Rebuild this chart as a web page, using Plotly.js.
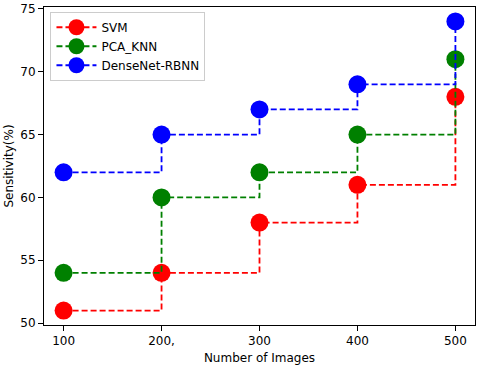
<!DOCTYPE html>
<html>
<head>
<meta charset="utf-8">
<script src="https://cdn.plot.ly/plotly-3.0.1.min.js"></script>
<style>html,body{margin:0;padding:0;background:#fff;}#chart{width:480px;height:365px;}</style>
</head>
<body>
<div id="chart"></div>
<script>
const numImages = [100, 200, 300, 400, 500];
const xTickText = ['100', '200,', '300', '400', '500'];
const svm = [51, 54, 58, 61, 68];
const pcaKnn = [54, 60, 62, 65, 71];
const denseNet = [62, 65, 67, 69, 74];
const seriesNames = ['SVM', 'PCA_KNN', 'DenseNet-RBNN'];
const seriesColors = ['#ff0000', '#008000', '#0000ff'];
const seriesValues = [svm, pcaKnn, denseNet];

const traces = seriesValues.map((vals, i) => ({
  x: numImages,
  y: vals,
  name: seriesNames[i],
  type: 'scatter',
  mode: 'lines+markers',
  line: {shape: 'hv', dash: '6px,3px', width: 1.8, color: seriesColors[i]},
  marker: {size: 18, color: seriesColors[i]},
  cliponaxis: false
}));

const font = {family: 'DejaVu Sans, sans-serif', size: 12, color: '#000'};
const layout = {
  width: 480, height: 365,
  margin: {l: 44, r: 5, t: 7, b: 40},
  paper_bgcolor: '#fff', plot_bgcolor: '#fff',
  font: font,
  showlegend: true,
  legend: {
    x: 0.015, y: 0.985, xanchor: 'left', yanchor: 'top',
    bgcolor: 'rgba(255,255,255,0.8)', bordercolor: '#cccccc', borderwidth: 1,
    font: {family: 'DejaVu Sans, sans-serif', size: 12, color: '#000'},
    itemwidth: 40, tracegroupgap: 0
  },
  xaxis: {
    range: [80, 520],
    tickvals: numImages, ticktext: xTickText,
    ticks: 'outside', ticklen: 5, tickcolor: '#000', tickwidth: 1,
    showline: true, linecolor: '#000', linewidth: 1, mirror: true,
    showgrid: false, zeroline: false,
    title: {text: 'Number of Images', font: font, standoff: 6}
  },
  yaxis: {
    range: [49.85, 75.15],
    tickvals: [50, 55, 60, 65, 70, 75],
    ticks: 'outside', ticklen: 5, tickcolor: '#000', tickwidth: 1,
    showline: true, linecolor: '#000', linewidth: 1, mirror: true,
    showgrid: false, zeroline: false,
    title: {text: 'Sensitivity(%)', font: font, standoff: 4}
  }
};
Plotly.newPlot('chart', traces, layout, {displayModeBar: false, staticPlot: true});
</script>
</body>
</html>
